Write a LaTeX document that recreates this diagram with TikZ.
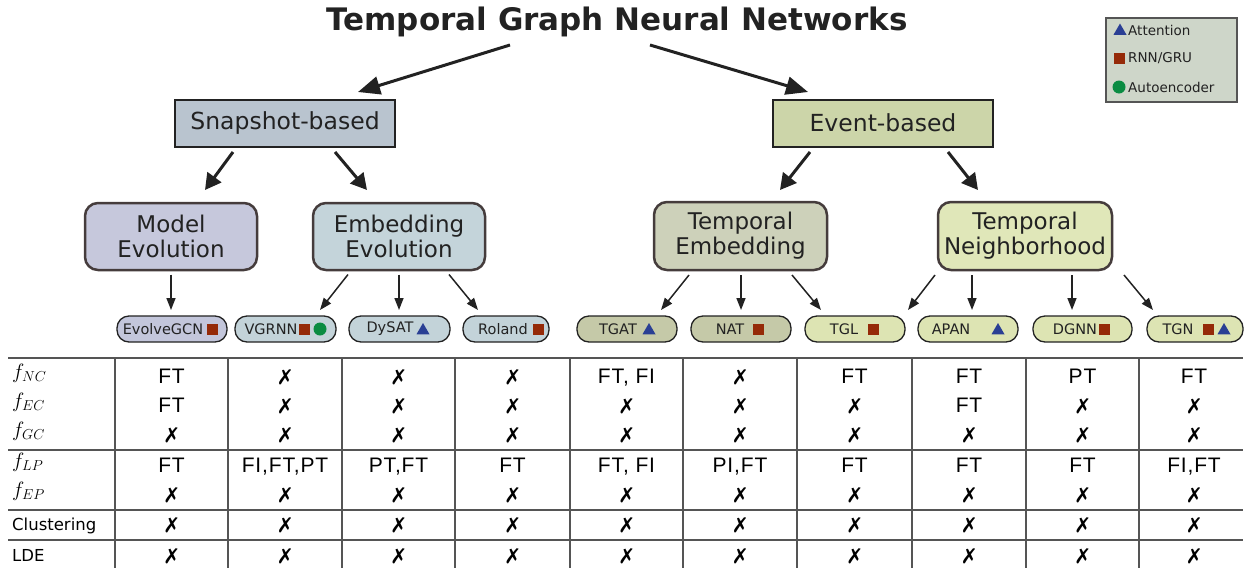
\documentclass[tikz,border=0pt]{standalone}
\usepackage{fontspec}
\usepackage{pifont}
\setmainfont{DejaVu Sans}
\newfontfamily\tabfont[LetterSpace=4]{Liberation Sans}
\usetikzlibrary{arrows.meta,calc,shapes.geometric}
\definecolor{ink}{HTML}{222222}
\definecolor{bord}{HTML}{453C3C}
\definecolor{snapfill}{HTML}{B9C4CF}
\definecolor{eventfill}{HTML}{CCD5A9}
\definecolor{modelfill}{HTML}{C6C8DC}
\definecolor{embfill}{HTML}{C4D4DA}
\definecolor{tembfill}{HTML}{CDD1BA}
\definecolor{tnbfill}{HTML}{E0E7B9}
\definecolor{pillA}{HTML}{C3C6DB}
\definecolor{pillB}{HTML}{C3D3D9}
\definecolor{pillC}{HTML}{C5C9A8}
\definecolor{pillD}{HTML}{DDE4B3}
\definecolor{legfill}{HTML}{CED6C9}
\definecolor{triblue}{HTML}{2A3F94}
\definecolor{sqred}{HTML}{952A08}
\definecolor{cgreen}{HTML}{0A8C42}
\definecolor{gridc}{HTML}{555555}
\newcommand\X{{\fontsize{21}{22}\selectfont\ding{55}}}
\tikzset{
  catbox/.style={draw=ink, line width=2pt, minimum width=220pt, minimum height=47pt, font=\fontsize{23.5}{25}\selectfont, text=ink},
  subbox/.style={draw=bord, line width=2.5pt, rounded corners=13pt, minimum width=172pt, minimum height=67pt, align=center, font=\fontsize{23}{25}\selectfont, text=ink},
  pill/.style={draw=ink, line width=1.3pt, rounded corners=12pt, minimum height=26pt, inner sep=0pt},
  pilltext/.style={font=\fontsize{14.5}{16}\selectfont, text=ink, inner sep=0pt},
  tri/.style={regular polygon, regular polygon sides=3, fill=triblue, inner sep=0pt, minimum size=15pt},
  sq/.style={rectangle, fill=sqred, inner sep=0pt, minimum size=11pt},
  dot/.style={circle, fill=cgreen, inner sep=0pt, minimum size=13pt},
  bigarr/.style={draw=ink, line width=3pt, -{Triangle[length=22pt,width=18pt]}},
  midarr/.style={draw=ink, line width=3pt, -{Triangle[length=16pt,width=17pt]}},
  smallarr/.style={draw=ink, line width=1.5pt, -{Triangle[length=12pt,width=9pt]}},
  gridline/.style={draw=gridc, line width=1.5pt},
  cell/.style={font=\tabfont\fontsize{21}{22}\selectfont, inner sep=0pt, anchor=base, text=black},
  rowlab/.style={anchor=base west, inner sep=0pt, font=\fontsize{21}{22}\selectfont},
  rowtxt/.style={anchor=base west, inner sep=0pt, font=\fontsize{16.5}{18}\selectfont},
  legtext/.style={anchor=west, inner sep=0pt, font=\fontsize{13.5}{15}\selectfont, text=ink},
}
\begin{document}
\begin{tikzpicture}[x=1pt,y=-1pt]
\useasboundingbox (0,0) rectangle (1247,568);

% title
\node[font=\bfseries\fontsize{31}{34}\selectfont, text=ink, inner sep=0pt] (title) at (617,22) {Temporal Graph Neural Networks};

% legend
\node[draw=gridc, line width=1.2pt, fill=legfill, minimum width=131pt, minimum height=84pt, inner sep=0pt] (legend) at (1171.5,60) {};
\node[tri] (legtri) at (1120,31) {};
\node[legtext] (legatt) at (1128,30) {Attention};
\node[sq] (legsq) at (1119,58) {};
\node[legtext] (legrnn) at (1128,58) {RNN/GRU};
\node[dot] (legdot) at (1119,87) {};
\node[legtext] (legae) at (1128,87) {Autoencoder};

% categories
\node[catbox, fill=snapfill] (snap) at (285,123.5) {Snapshot-based};
\node[catbox, fill=eventfill] (event) at (883,123) {Event-based};

\node[subbox, fill=modelfill] (model) at (171,236.5) {Model\\Evolution};
\node[subbox, fill=embfill] (embev) at (399,236.5) {Embedding\\Evolution};
\node[subbox, fill=tembfill, minimum width=173pt, minimum height=68pt] (temb) at (740.5,236) {Temporal\\Embedding};
\node[subbox, fill=tnbfill, minimum width=174pt, minimum height=68pt] (tnb) at (1025,236) {Temporal\\Neighborhood};

% pills
\node[pill, fill=pillA, minimum width=110pt] (evo) at (172,329) {};
\node[pilltext] (evo-t) at (163,329) {EvolveGCN};
\node[sq] (evo-s) at (212,329) {};

\node[pill, fill=pillB, minimum width=101pt] (vgr) at (285.5,329) {};
\node[pilltext] (vgr-t) at (271,329) {VGRNN};
\node[sq] (vgr-s) at (304,329) {};
\node[dot] (vgr-c) at (320,329) {};

\node[pill, fill=pillB, minimum width=101pt] (dys) at (399.5,329) {};
\node[pilltext] (dys-t) at (390,329) {DySAT};
\node[tri] (dys-a) at (423,330.5) {};

\node[pill, fill=pillB, minimum width=86pt] (rol) at (506,329) {};
\node[pilltext] (rol-t) at (503,329) {Roland};
\node[sq] (rol-s) at (538,329) {};

\node[pill, fill=pillC, minimum width=100pt] (tgat) at (627,329) {};
\node[pilltext] (tgat-t) at (618,329) {TGAT};
\node[tri] (tgat-a) at (649,330.5) {};

\node[pill, fill=pillC, minimum width=100pt] (nat) at (741,329) {};
\node[pilltext] (nat-t) at (730,329) {NAT};
\node[sq] (nat-s) at (758,329) {};

\node[pill, fill=pillD, minimum width=100pt] (tgl) at (855,329) {};
\node[pilltext] (tgl-t) at (844,329) {TGL};
\node[sq] (tgl-s) at (873,329) {};

\node[pill, fill=pillD, minimum width=100pt] (apan) at (968,329) {};
\node[pilltext] (apan-t) at (951,329) {APAN};
\node[tri] (apan-a) at (998,330.5) {};

\node[pill, fill=pillD, minimum width=99pt] (dgnn) at (1082.5,329) {};
\node[pilltext] (dgnn-t) at (1075,329) {DGNN};
\node[sq] (dgnn-s) at (1104,329) {};

\node[pill, fill=pillD, minimum width=96pt] (tgn) at (1195,329) {};
\node[pilltext] (tgn-t) at (1178,329) {TGN};
\node[sq] (tgn-s) at (1208,329) {};
\node[tri] (tgn-a) at (1224,330.5) {};

% arrows level 1
\draw[bigarr] ($(title)+(-107,23)$) -- ($(snap)+(73,-31.5)$);
\draw[bigarr] ($(title)+(33,23)$) -- ($(event)+(-75,-31)$);
% level 2
\draw[midarr] ($(snap)+(-52,28.5)$) -- ($(model)+(34,-46.5)$);
\draw[midarr] ($(snap)+(50,28.5)$) -- ($(embev)+(-32,-46.5)$);
\draw[midarr] ($(event)+(-73,29)$) -- ($(temb)+(39.5,-46)$);
\draw[midarr] ($(event)+(65,29)$) -- ($(tnb)+(-47,-46)$);
% level 3
\draw[smallarr] ($(model)+(0,38)$) -- ($(evo)+(-1,-19)$);
\draw[smallarr] ($(embev)+(-51,38)$) -- ($(vgr)+(34.5,-19)$);
\draw[smallarr] ($(embev)+(0,38)$) -- ($(dys)+(-0.5,-19)$);
\draw[smallarr] ($(embev)+(50,38)$) -- ($(rol)+(-28,-19)$);
\draw[smallarr] ($(temb)+(-51.5,39)$) -- ($(tgat)+(34,-19)$);
\draw[smallarr] ($(temb)+(0.5,39)$) -- ($(nat)+(0,-19)$);
\draw[smallarr] ($(temb)+(51.5,39)$) -- ($(tgl)+(-34,-19)$);
\draw[smallarr] ($(tnb)+(-90,39)$) -- ($(tgl)+(53,-19)$);
\draw[smallarr] ($(tnb)+(-53,39)$) -- ($(apan)+(4,-19)$);
\draw[smallarr] ($(tnb)+(47,39)$) -- ($(dgnn)+(-10.5,-19)$);
\draw[smallarr] ($(tnb)+(99,39)$) -- ($(tgn)+(-42,-19)$);

% table grid
\foreach \yy in {358,450,510,540} \draw[gridline] (8,\yy) -- (1243,\yy);
\foreach \xx in {115,228,342,455,570,683,797,912,1026,1139} \draw[gridline] (\xx,358) -- (\xx,568);

% row labels
\node[rowlab] (r1) at (12,378) {$f_{NC}$};
\node[rowlab] (r2) at (12,407) {$f_{EC}$};
\node[rowlab] (r3) at (12,436) {$f_{GC}$};
\node[rowlab] (r4) at (12,467) {$f_{LP}$};
\node[rowlab] (r5) at (12,496) {$f_{EP}$};
\node[rowtxt] (r6) at (12,530) {Clustering};
\node[rowtxt] (r7) at (12,561) {LDE};

% cells
\foreach \v [count=\i] in {FT,\X,\X,\X,{FT, FI},\X,FT,FT,PT,FT} {
  \pgfmathsetmacro\cx{{171.5,285,398.5,512.5,626.5,740,854.5,969,1082.5,1194}[\i-1]}
  \node[cell] (c1-\i) at (\cx,383) {\v};
}
\foreach \v [count=\i] in {FT,\X,\X,\X,\X,\X,\X,FT,\X,\X} {
  \pgfmathsetmacro\cx{{171.5,285,398.5,512.5,626.5,740,854.5,969,1082.5,1194}[\i-1]}
  \node[cell] (c2-\i) at (\cx,412) {\v};
}
\foreach \v [count=\i] in {\X,\X,\X,\X,\X,\X,\X,\X,\X,\X} {
  \pgfmathsetmacro\cx{{171.5,285,398.5,512.5,626.5,740,854.5,969,1082.5,1194}[\i-1]}
  \node[cell] (c3-\i) at (\cx,441) {\v};
}
\foreach \v [count=\i] in {FT,{FI,FT,PT},{PT,FT},FT,{FT, FI},{PI,FT},FT,FT,FT,{FI,FT}} {
  \pgfmathsetmacro\cx{{171.5,285,398.5,512.5,626.5,740,854.5,969,1082.5,1194}[\i-1]}
  \node[cell] (c4-\i) at (\cx,472) {\v};
}
\foreach \r/\yy in {5/501,6/531,7/562} {
  \foreach \i in {1,...,10} {
    \pgfmathsetmacro\cx{{171.5,285,398.5,512.5,626.5,740,854.5,969,1082.5,1194}[\i-1]}
    \node[cell] (c\r-\i) at (\cx,\yy) {\X};
  }
}
\end{tikzpicture}
\end{document}
